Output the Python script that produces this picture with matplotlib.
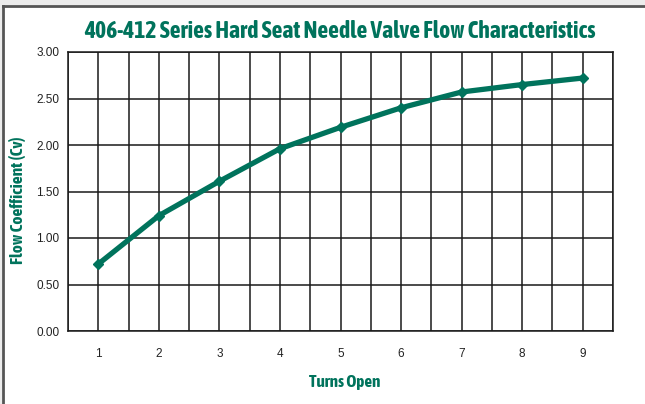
import matplotlib
matplotlib.use("Agg")
import matplotlib.pyplot as plt
from matplotlib import font_manager as fm
from matplotlib.patches import Rectangle
from matplotlib.lines import Line2D

turns = [1, 2, 3, 4, 5, 6, 7, 8, 9]
cv = [0.72, 1.24, 1.61, 1.96, 2.19, 2.40, 2.57, 2.65, 2.72]
yticks = [0.0, 0.5, 1.0, 1.5, 2.0, 2.5, 3.0]
ytick_labels = ["0.00", "0.50", "1.00", "1.50", "2.00", "2.50", "3.00"]

green = "#00735c"


def _w(f):
    w = f.weight
    if isinstance(w, str):
        return 700 if "bold" in w.lower() else 400
    return w


cands = [f for f in fm.fontManager.ttflist
         if "narrow" in f.name.lower() or "condensed" in f.name.lower()]
bold_names = sorted({f.name for f in cands if _w(f) >= 600 and f.style == "normal"})
any_names = sorted({f.name for f in cands})
if bold_names:
    cond = [bold_names[0], "DejaVu Sans"]
elif any_names:
    cond = [any_names[0], "DejaVu Sans"]
else:
    cond = ["Liberation Sans", "DejaVu Sans"]
plt.rcParams["font.family"] = ["Liberation Sans", "DejaVu Sans"]

W, H = 645, 404
fig = plt.figure(figsize=(W / 100, H / 100), dpi=100)
fig.patch.set_facecolor("white")

fig.add_artist(Rectangle((0, 1 - 5 / H), 1, 5 / H, transform=fig.transFigure,
                         facecolor="#ececec", edgecolor="none", zorder=0))
fig.add_artist(Rectangle((0, 0), 2 / W, 1, transform=fig.transFigure,
                         facecolor="#ececec", edgecolor="none", zorder=0))
fig.add_artist(Line2D([3 / W, 1], [1 - 6 / H, 1 - 6 / H], transform=fig.transFigure,
                      color="#555555", lw=2))
fig.add_artist(Line2D([3 / W, 3 / W], [0, 1 - 6 / H], transform=fig.transFigure,
                      color="#555555", lw=2))

ax = fig.add_axes([68 / W, 1 - 331 / H, (613 - 68) / W, (331 - 52) / H])
ax.set_xlim(0.5, 9.5)
ax.set_ylim(0, 3)
ax.set_xticks(turns)
ax.set_xticklabels([str(t) for t in turns], fontsize=8.5, color="#222222")
ax.set_yticks(yticks)
ax.set_yticklabels(ytick_labels, fontsize=8.5, color="#222222")
ax.set_xticks([x + 0.5 for x in range(0, 10)], minor=True)
ax.tick_params(axis="both", which="both", length=0)
ax.tick_params(axis="x", pad=12)
ax.tick_params(axis="y", pad=6)
ax.grid(True, which="both", color="#1a1a1a", lw=1.1)
for s in ax.spines.values():
    s.set_color("#1a1a1a")
    s.set_linewidth(1.1)

ax.plot(turns, cv, color=green, lw=3.8, marker="D", markersize=5,
        solid_joinstyle="round", zorder=3, clip_on=False)

renderer = fig.canvas.get_renderer()


def fitted(x, y, s, target_w, size, **kw):
    t = fig.text(x, y, s, fontsize=size, fontweight="bold", color=green,
                 family=cond, ha="center", va="center", **kw)
    bb = t.get_window_extent(renderer)
    w = bb.height if kw.get("rotation") == 90 else bb.width
    t.set_fontsize(min(size * target_w / w, size * 1.6))
    return t


fitted(340 / W, 1 - 31 / H, "406-412 Series Hard Seat Needle Valve Flow Characteristics", 512, 16)
fitted(345 / W, 1 - 382 / H, "Turns Open", 72, 10.5)
fitted(18 / W, 1 - 200 / H, "Flow Coefficient (Cv)", 128, 10.5, rotation=90)

fig.savefig("out.png", dpi=100)
